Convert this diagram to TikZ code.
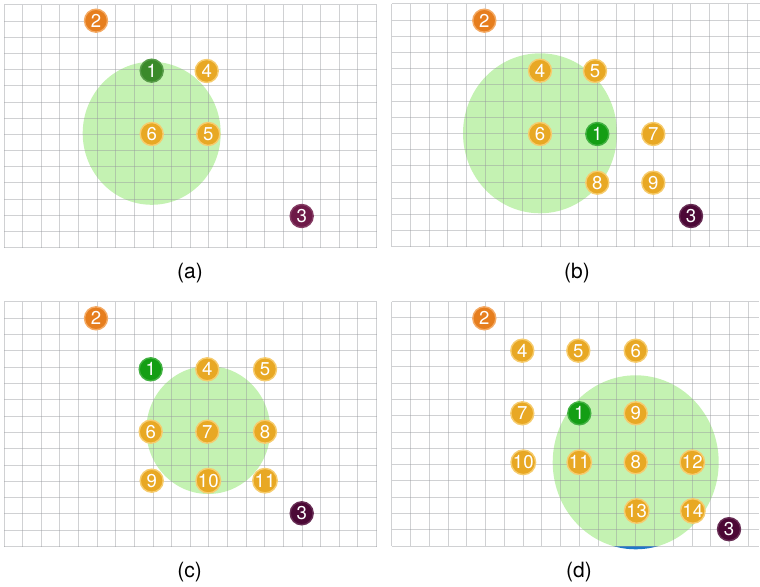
\documentclass[tikz,border=0pt]{standalone}
\usepackage{fontspec}
\setmainfont{TeX Gyre Heros}
\definecolor{gridc}{RGB}{150,152,158}
\definecolor{zonec}{RGB}{196,242,178}
\definecolor{amberc}{RGB}{232,168,36}
\definecolor{amberring}{RGB}{246,204,110}
\definecolor{orangec}{RGB}{230,126,30}
\definecolor{orangering}{RGB}{244,170,100}
\definecolor{darkgreenc}{RGB}{58,138,42}
\definecolor{greenc}{RGB}{20,158,20}
\definecolor{maroonA}{RGB}{110,26,72}
\definecolor{maroonB}{RGB}{76,8,54}
\definecolor{bluec}{RGB}{30,120,200}
\newcommand{\mygrid}[7]{%
  \foreach \i in {0,...,#5} \draw[gridline] ({#1+\i*#3},#2) -- ({#1+\i*#3},{#2+#6*#4});
  \foreach \j in {0,...,#6} \draw[gridline] (#1,{#2+\j*#4}) -- (#7,{#2+\j*#4});
}
\tikzset{
  gridline/.style={draw=gridc, draw opacity=0.45, line width=0.5pt},
  zone/.style={fill=zonec},
  pt/.style={circle, minimum size=11.5pt, inner sep=0pt, text=white,
    font=\fontsize{9.3}{9.3}\selectfont, line width=0.7pt},
  amb/.style={pt, fill=amberc, draw=amberring},
  org/.style={pt, fill=orangec, draw=orangering},
  sink/.style={pt, fill=greenc, draw=greenc!80!white},
  sinkA/.style={pt, fill=darkgreenc, draw=darkgreenc!85!white},
  dst/.style={pt, fill=maroonB, draw=maroonB!85!white},
  dstA/.style={pt, fill=maroonA, draw=maroonA!85!white},
  captext/.style={font=\fontsize{10.5}{10.5}\selectfont, inner sep=0pt}
}
\begin{document}
\begin{tikzpicture}[x=0.5pt, y=-0.5pt]
\useasboundingbox (0,0) rectangle (760,587);
% ---------------- panel (a)
\begin{scope}
  \clip (4,5) rectangle (377,248);
  \fill[zone] (151.7,133.3) ellipse [x radius=69, y radius=71.5];
\end{scope}
\mygrid{4}{5}{18.63}{16.18}{20}{15}{377}
\node[org]   (a2) at (96,20.7) {2};
\node[sinkA] (a1) at (151.7,70.7) {1};
\node[amb]   (a4) at (206.7,71) {4};
\node[amb]   (a6) at (151.7,134) {6};
\node[amb]   (a5) at (208.3,134) {5};
\node[dstA]  (a3) at (301.7,216) {3};
\node[captext] (capa) at (190,273) {(a)};
% ---------------- panel (b)
\begin{scope}
  \clip (391.7,4) rectangle (760,247);
  \fill[zone] (540,133.3) ellipse [x radius=77, y radius=80];
\end{scope}
\mygrid{391.7}{4}{18.7}{16.2}{19}{15}{760}
\node[org]  (b2) at (484.3,20.7) {2};
\node[amb]  (b4) at (540,70.7) {4};
\node[amb]  (b5) at (595,71) {5};
\node[amb]  (b6) at (540,134) {6};
\node[sink] (b1) at (597.3,134) {1};
\node[amb]  (b7) at (653.3,134) {7};
\node[amb]  (b8) at (597.3,182.7) {8};
\node[amb]  (b9) at (653.3,182.7) {9};
\node[dst]  (b3) at (691,216) {3};
\node[captext] (capb) at (577,273) {(b)};
% ---------------- panel (c)
\begin{scope}
  \clip (4,301.7) rectangle (377,546.7);
  \fill[zone] (208.3,430) ellipse [x radius=62, y radius=64];
\end{scope}
\mygrid{4}{301.7}{18.63}{16.33}{20}{15}{377}
\node[org]  (c2) at (96,318.3) {2};
\node[sink] (c1) at (150.7,369.3) {1};
\node[amb]  (c4) at (207.3,369.3) {4};
\node[amb]  (c5) at (265,369.3) {5};
\node[amb]  (c6) at (150.7,431.7) {6};
\node[amb]  (c7) at (207.3,431.7) {7};
\node[amb]  (c8) at (265,431.7) {8};
\node[amb]  (c9) at (151.7,480.7) {9};
\node[amb]  (c10) at (208.3,480.7) {10};
\node[amb]  (c11) at (265,480.7) {11};
\node[dst]  (c3) at (301.7,513.3) {3};
\node[captext] (capc) at (189.5,572) {(c)};
% ---------------- panel (d)
\begin{scope}
  \clip (391.7,301.7) rectangle (759,546);
  \fill[zone] (635.7,462.3) ellipse [x radius=83, y radius=87];
\end{scope}
\begin{scope}
  \clip (391.7,546) rectangle (759,560);
  \fill[bluec] (635.7,462.3) ellipse [x radius=83, y radius=87];
\end{scope}
\mygrid{391.7}{301.7}{18.77}{16.29}{19}{15}{759}
\node[org]  (d2) at (484.3,318.3) {2};
\node[amb]  (d4) at (522.3,350.7) {4};
\node[amb]  (d5) at (578.3,350.7) {5};
\node[amb]  (d6) at (635.7,350.7) {6};
\node[amb]  (d7) at (522.3,413.3) {7};
\node[sink] (d1) at (579.3,413.3) {1};
\node[amb]  (d9) at (635.7,413.3) {9};
\node[amb]  (d10) at (523.3,462.3) {10};
\node[amb]  (d11) at (579.3,462.3) {11};
\node[amb]  (d8) at (635.7,462.3) {8};
\node[amb]  (d12) at (692.3,462.3) {12};
\node[amb]  (d13) at (636.7,511) {13};
\node[amb]  (d14) at (692.8,511) {14};
\node[dst]  (d3) at (729,529.2) {3};
\node[captext] (capd) at (579,572) {(d)};
\end{tikzpicture}
\end{document}
